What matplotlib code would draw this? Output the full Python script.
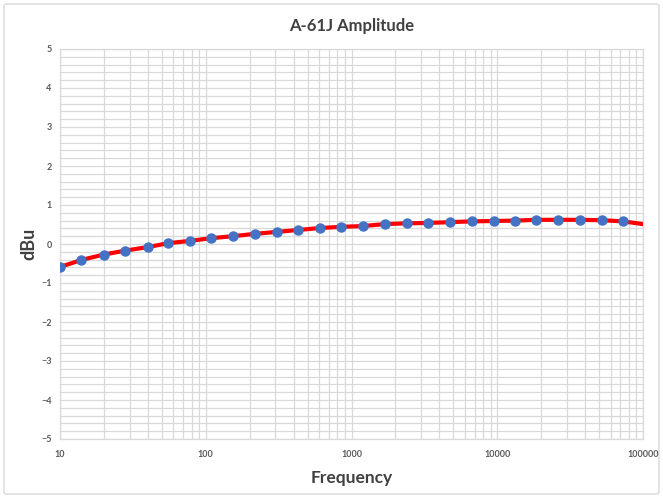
import numpy as np
import matplotlib
matplotlib.use('Agg')
import matplotlib.pyplot as plt
from matplotlib.ticker import FixedLocator, LogLocator, NullFormatter, MultipleLocator
from matplotlib.patches import FancyBboxPatch

# measured points (Hz, dBu)
freq = [10, 14, 20, 28, 40, 55, 78, 109, 154, 217, 307, 432, 608, 851,
        1200, 1690, 2390, 3370, 4740, 6680, 9460, 13200, 18500, 26100,
        37000, 52100, 73300]
level = [-0.59, -0.41, -0.27, -0.17, -0.08, 0.02, 0.08, 0.15, 0.20, 0.26,
         0.31, 0.36, 0.41, 0.44, 0.46, 0.51, 0.53, 0.54, 0.56, 0.58,
         0.59, 0.60, 0.62, 0.62, 0.62, 0.61, 0.58]
# the red trace runs on to the edge of the axis
end_freq = [100000]
end_level = [0.51]

x_ticks = [10, 100, 1000, 10000, 100000]
x_labels = ['10', '100', '1000', '10000', '100000']
y_ticks = [-5, -4, -3, -2, -1, 0, 1, 2, 3, 4, 5]

GRID = '#D9D9D9'
TXT = '#595959'
FONT = ['Lato', 'DejaVu Sans']

fig = plt.figure(figsize=(6.63, 4.98), dpi=100)
fig.patches.append(FancyBboxPatch((0.006, 0.008), 0.988, 0.984,
                                  boxstyle='round,pad=0,rounding_size=0.004',
                                  transform=fig.transFigure, fc='white',
                                  ec='#D9D9D9', lw=1.0, zorder=-10))
ax = fig.add_axes([60/663, 1 - 439/498, 583/663, 390/498])

ax.set_xscale('log')
ax.set_xlim(10, 100000)
ax.set_ylim(-5, 5)

ax.xaxis.set_major_locator(FixedLocator(x_ticks))
ax.set_xticklabels(x_labels)
ax.xaxis.set_minor_locator(LogLocator(base=10, subs=np.arange(2, 10)))
ax.xaxis.set_minor_formatter(NullFormatter())
ax.yaxis.set_major_locator(FixedLocator(y_ticks))
ax.yaxis.set_minor_locator(MultipleLocator(0.2))

ax.grid(True, which='both', color=GRID, lw=0.9)
ax.set_axisbelow(True)
for s in ax.spines.values():
    s.set_color(GRID)
    s.set_linewidth(0.9)

ax.tick_params(axis='x', which='both', length=0, pad=8)
ax.tick_params(axis='y', which='both', length=0, pad=6)
for lab in ax.get_xticklabels() + ax.get_yticklabels():
    lab.set_fontfamily(FONT)
    lab.set_fontsize(6.5)
    lab.set_fontweight('bold')
    lab.set_color(TXT)

ax.plot(freq + end_freq, level + end_level, color='#FF0000', lw=3, zorder=3,
        solid_capstyle='round')
ax.plot(freq, level, ls='none', marker='o', ms=6.5, color='#4472C4',
        mec='#4472C4', zorder=4)

ax.set_xlabel('Frequency', fontsize=12.5, fontweight='bold', color='#404040',
              family=FONT, labelpad=8)
ax.set_ylabel('dBu', fontsize=13, fontweight='bold', color='#404040',
              family=FONT)
ax.yaxis.set_label_coords(-23/583, 0.5)
fig.text(352/663, 1 - 26/498, 'A-61J Amplitude', ha='center', va='center',
         fontsize=12, fontweight='bold', color='#404040', family=FONT)

fig.savefig('out.png', dpi=100)
